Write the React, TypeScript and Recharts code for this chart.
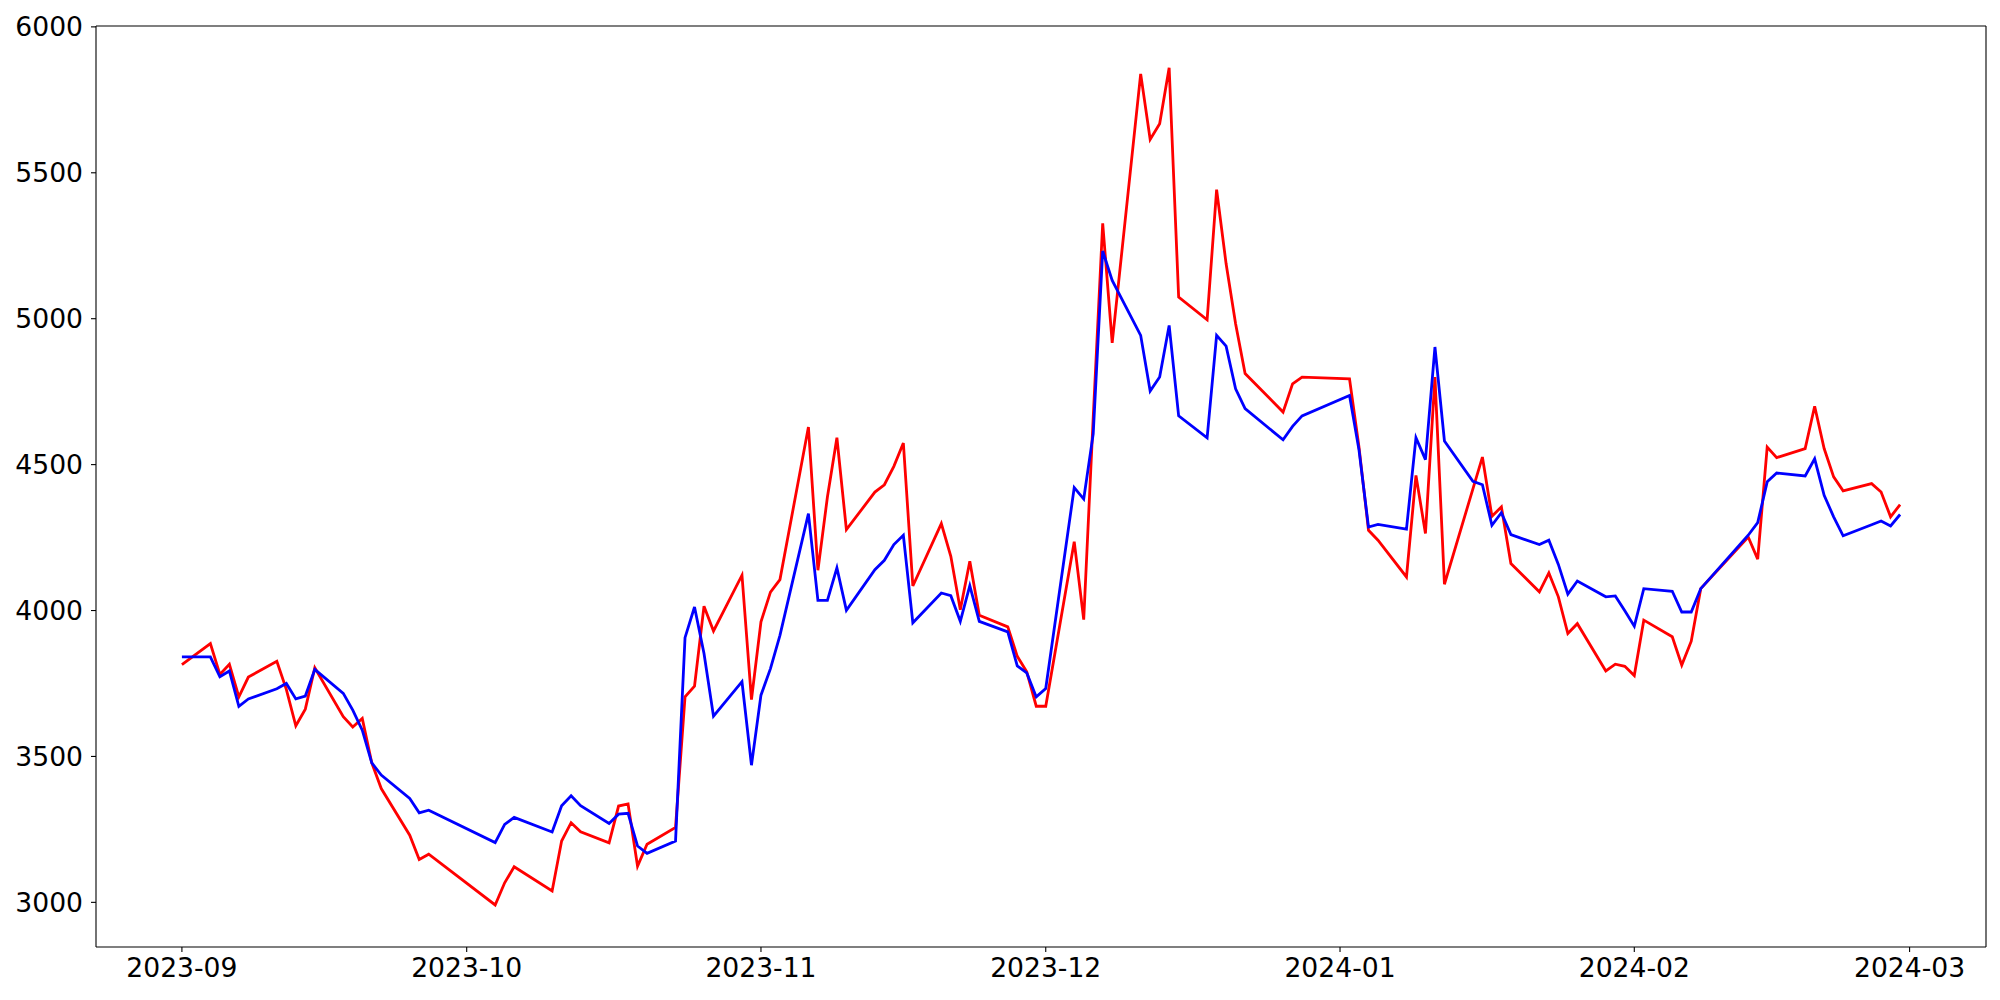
import React from "react";
import { LineChart, Line, XAxis, YAxis, ReferenceLine } from "recharts";

const dates: string[] = [
  "2023-09-01","2023-09-04","2023-09-05","2023-09-06","2023-09-07","2023-09-08",
  "2023-09-11","2023-09-12","2023-09-13","2023-09-14","2023-09-15",
  "2023-09-18","2023-09-19","2023-09-20","2023-09-21","2023-09-22",
  "2023-09-25","2023-09-26","2023-09-27",
  "2023-10-04","2023-10-05","2023-10-06",
  "2023-10-10","2023-10-11","2023-10-12","2023-10-13",
  "2023-10-16","2023-10-17","2023-10-18","2023-10-19","2023-10-20",
  "2023-10-23","2023-10-24","2023-10-25","2023-10-26","2023-10-27",
  "2023-10-30","2023-10-31","2023-11-01","2023-11-02","2023-11-03",
  "2023-11-06","2023-11-07","2023-11-08","2023-11-09","2023-11-10",
  "2023-11-13","2023-11-14","2023-11-15","2023-11-16","2023-11-17",
  "2023-11-20","2023-11-21","2023-11-22","2023-11-23","2023-11-24",
  "2023-11-27","2023-11-28","2023-11-29","2023-11-30","2023-12-01",
  "2023-12-04","2023-12-05","2023-12-06","2023-12-07","2023-12-08",
  "2023-12-11","2023-12-12","2023-12-13","2023-12-14","2023-12-15",
  "2023-12-18","2023-12-19","2023-12-20","2023-12-21","2023-12-22",
  "2023-12-26","2023-12-27","2023-12-28",
  "2024-01-02","2024-01-03","2024-01-04","2024-01-05",
  "2024-01-08","2024-01-09","2024-01-10","2024-01-11","2024-01-12",
  "2024-01-15","2024-01-16","2024-01-17","2024-01-18","2024-01-19",
  "2024-01-22","2024-01-23","2024-01-24","2024-01-25","2024-01-26",
  "2024-01-29","2024-01-30","2024-01-31","2024-02-01","2024-02-02",
  "2024-02-05","2024-02-06","2024-02-07","2024-02-08",
  "2024-02-13","2024-02-14","2024-02-15","2024-02-16",
  "2024-02-19","2024-02-20","2024-02-21","2024-02-22","2024-02-23",
  "2024-02-26","2024-02-27","2024-02-28","2024-02-29",
];

const redValues: number[] = [
  3815, 3887, 3781, 3816, 3704, 3772,
  3826, 3730, 3605, 3662, 3804,
  3636, 3601, 3630, 3478, 3390,
  3230, 3147, 3165,
  2991, 3067, 3122,
  3039, 3210, 3273, 3242,
  3204, 3330, 3337, 3124, 3199,
  3257, 3704, 3741, 4015, 3930,
  4121, 3695, 3961, 4063, 4106,
  4629, 4138, 4389, 4592, 4277,
  4406, 4431, 4494, 4574, 4084,
  4298, 4186, 4003, 4169, 3984,
  3944, 3843, 3790, 3672, 3672,
  4236, 3969, 4660, 5327, 4917,
  5839, 5614, 5668, 5860, 5074,
  4996, 5442, 5188, 4983, 4812,
  4680, 4777, 4800,
  4794, 4560, 4275, 4241,
  4115, 4463, 4264, 4800, 4090,
  4417, 4526, 4323, 4355, 4161,
  4064, 4129, 4047, 3921, 3955,
  3793, 3816, 3809, 3777, 3967,
  3910, 3813, 3895, 4075,
  4252, 4176, 4560, 4524,
  4555, 4700, 4555, 4458, 4410,
  4435, 4406, 4321, 4363,
];

const blueValues: number[] = [
  3841, 3841, 3773, 3793, 3672, 3697,
  3732, 3750, 3697, 3707, 3798,
  3716, 3659, 3590, 3478, 3436,
  3356, 3307, 3316,
  3205, 3267, 3291,
  3241, 3331, 3365, 3331,
  3270, 3302, 3305, 3193, 3168,
  3210, 3907, 4012, 3853, 3638,
  3756, 3470, 3710, 3801, 3915,
  4332, 4035, 4035, 4146, 4001,
  4140, 4172, 4226, 4258, 3958,
  4060, 4051, 3963, 4085, 3963,
  3927, 3810, 3786, 3704, 3733,
  4421, 4382, 4605, 5232, 5131,
  4943, 4752, 4800, 4977, 4667,
  4592, 4943, 4906, 4760, 4692,
  4585, 4631, 4667,
  4737, 4550, 4286, 4295,
  4279, 4592, 4517, 4903, 4581,
  4443, 4431, 4292, 4335, 4260,
  4226, 4241, 4158, 4056, 4101,
  4047, 4050, 3999, 3946, 4075,
  4066, 3995, 3995, 4075,
  4258, 4301, 4441, 4471,
  4461, 4520, 4395, 4321, 4256,
  4294, 4307, 4290, 4329,
];

const xTickDates: string[] = [
  "2023-09-01","2023-10-01","2023-11-01","2023-12-01",
  "2024-01-01","2024-02-01","2024-03-01",
];
const yTicks: number[] = [3000, 3500, 4000, 4500, 5000, 5500, 6000];

const toTs = (d: string) => new Date(d + "T00:00:00Z").getTime();

const data = dates.map((d, i) => ({ t: toTs(d), red: redValues[i], blue: blueValues[i] }));
const xTicks = xTickDates.map(toTs);

const first = data[0].t;
const last = data[data.length - 1].t;
const pad = (last - first) * 0.05;
const xDomain: [number, number] = [first - pad, last + pad];
const yDomain: [number, number] = [2847, 6003];

const fmt = (v: number) => {
  const d = new Date(v);
  const m = d.getUTCMonth() + 1;
  return `${d.getUTCFullYear()}-${m < 10 ? "0" + m : m}`;
};

const font = { fontFamily: "DejaVu Sans", fontSize: 26.6, fill: "#000" };
const axisStroke = { stroke: "#000", strokeWidth: 1.1 };

export default function App() {
  return (
    <div style={{ position: "absolute", left: 0, top: 0, width: 2000, height: 1000, background: "#fff" }}>
      <LineChart
        width={2000}
        height={1000}
        data={data}
        margin={{ top: 26, right: 14, bottom: 0, left: 0 }}
      >
        <XAxis
          dataKey="t"
          type="number"
          domain={xDomain}
          allowDataOverflow
          ticks={xTicks}
          interval={0}
          tickFormatter={fmt}
          tick={font}
          tickLine={axisStroke}
          axisLine={axisStroke}
          tickSize={5}
          tickMargin={6}
          height={53}
        />
        <YAxis
          type="number"
          domain={yDomain}
          allowDataOverflow
          ticks={yTicks}
          interval={0}
          tick={font}
          tickLine={axisStroke}
          axisLine={axisStroke}
          tickSize={5}
          tickMargin={8}
          width={96}
        />
        <ReferenceLine y={yDomain[1]} stroke="#000" strokeWidth={1.1} ifOverflow="visible" />
        <ReferenceLine x={xDomain[1]} stroke="#000" strokeWidth={1.1} ifOverflow="visible" />
        <Line
          type="linear"
          dataKey="red"
          stroke="#ff0000"
          strokeWidth={2.8}
          dot={false}
          activeDot={false}
          isAnimationActive={false}
        />
        <Line
          type="linear"
          dataKey="blue"
          stroke="#0000ff"
          strokeWidth={2.8}
          dot={false}
          activeDot={false}
          isAnimationActive={false}
        />
      </LineChart>
    </div>
  );
}
